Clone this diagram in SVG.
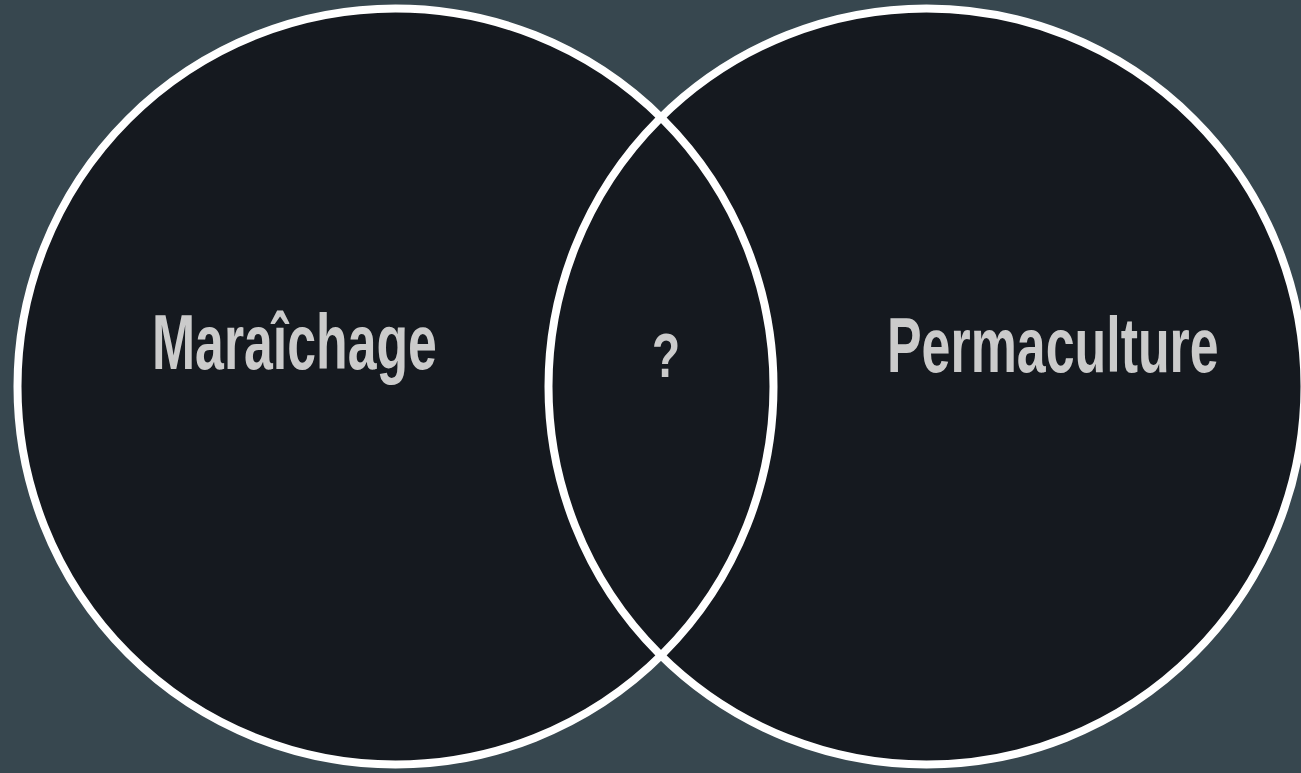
<svg xmlns="http://www.w3.org/2000/svg" width="1301" height="773" viewBox="0 0 1301 773">
<style>
.fill{fill:#15191f}
.ring{fill:none;stroke:#ffffff;stroke-width:8}
.lbl{font-family:"Liberation Sans",Arial,sans-serif;font-weight:bold;fill:#cbcbcb}
</style>
<rect width="1301" height="773" fill="#37474f"/>
<g id="set-fills">
<circle class="fill" cx="395.5" cy="386.5" r="378"/>
<circle class="fill" cx="926.5" cy="386.5" r="378"/>
</g>
<g id="set-left">
<circle class="ring" cx="395.5" cy="386.5" r="378"/>
<text class="lbl" transform="translate(152,369) scale(0.664,1)" x="0" y="0" font-size="78" textLength="429" lengthAdjust="spacingAndGlyphs">Maraîchage</text>
</g>
<g id="set-right">
<circle class="ring" cx="926.5" cy="386.5" r="378"/>
<text class="lbl" transform="translate(887,372) scale(0.666,1)" x="0" y="0" font-size="78" textLength="498" lengthAdjust="spacingAndGlyphs">Permaculture</text>
</g>
<g id="intersection">
<text class="lbl" transform="translate(652,377) scale(0.739,1)" x="0" y="0" font-size="62" textLength="38" lengthAdjust="spacingAndGlyphs">?</text>
</g>
<g id="connectors"></g>
</svg>
